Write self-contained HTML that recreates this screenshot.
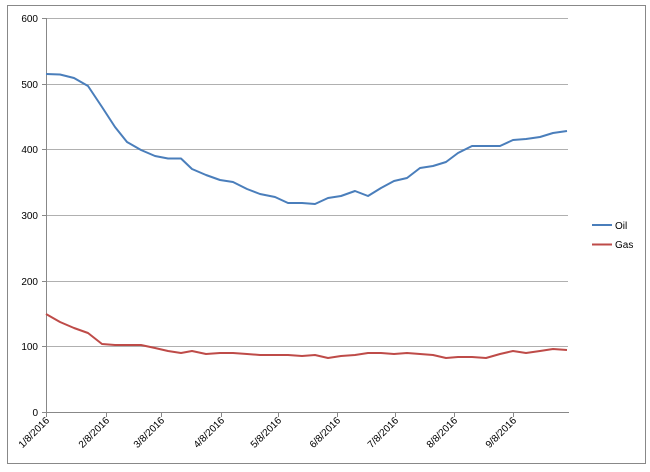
<!DOCTYPE html>
<html><head><style>
body{margin:0;background:#fff;}
svg{display:block;font-family:"Liberation Sans",sans-serif;}
</style></head><body>
<svg width="650" height="472" viewBox="0 0 650 472">
<rect x="0" y="0" width="650" height="472" fill="#fff"/>
<rect x="7.5" y="5.5" width="638" height="458" fill="#fff" stroke="#888" stroke-width="1"/>
<g stroke="#b0b0b0" stroke-width="1">
<line x1="46" x2="568" y1="18.5" y2="18.5"/>
<line x1="46" x2="568" y1="84.5" y2="84.5"/>
<line x1="46" x2="568" y1="149.5" y2="149.5"/>
<line x1="46" x2="568" y1="215.5" y2="215.5"/>
<line x1="46" x2="568" y1="281.5" y2="281.5"/>
<line x1="46" x2="568" y1="346.5" y2="346.5"/>
</g>
<g stroke="#888" stroke-width="1">
<line x1="46.5" x2="46.5" y1="18" y2="412"/>
<line x1="46" x2="569" y1="412.5" y2="412.5"/>
<line x1="46.5" x2="46.5" y1="412" y2="417"/>
<line x1="106.5" x2="106.5" y1="412" y2="417"/>
<line x1="161.5" x2="161.5" y1="412" y2="417"/>
<line x1="221.5" x2="221.5" y1="412" y2="417"/>
<line x1="278.5" x2="278.5" y1="412" y2="417"/>
<line x1="337.5" x2="337.5" y1="412" y2="417"/>
<line x1="395.5" x2="395.5" y1="412" y2="417"/>
<line x1="454.5" x2="454.5" y1="412" y2="417"/>
<line x1="513.5" x2="513.5" y1="412" y2="417"/>
<line x1="42" x2="46" y1="18.5" y2="18.5"/><line x1="42" x2="46" y1="84.5" y2="84.5"/><line x1="42" x2="46" y1="149.5" y2="149.5"/><line x1="42" x2="46" y1="215.5" y2="215.5"/><line x1="42" x2="46" y1="281.5" y2="281.5"/><line x1="42" x2="46" y1="346.5" y2="346.5"/><line x1="42" x2="46" y1="412.5" y2="412.5"/>
</g>
<g font-size="10" fill="#000" text-anchor="end">
<text x="38" y="22">600</text><text x="38" y="88">500</text><text x="38" y="153">400</text><text x="38" y="219">300</text><text x="38" y="285">200</text><text x="38" y="350">100</text><text x="38" y="416">0</text>
</g>
<g font-size="10" fill="#000" text-anchor="end">
<text transform="translate(50,421) rotate(-45)">1/8/2016</text>
<text transform="translate(110,421) rotate(-45)">2/8/2016</text>
<text transform="translate(165,421) rotate(-45)">3/8/2016</text>
<text transform="translate(225,421) rotate(-45)">4/8/2016</text>
<text transform="translate(282,421) rotate(-45)">5/8/2016</text>
<text transform="translate(341,421) rotate(-45)">6/8/2016</text>
<text transform="translate(399,421) rotate(-45)">7/8/2016</text>
<text transform="translate(458,421) rotate(-45)">8/8/2016</text>
<text transform="translate(517,421) rotate(-45)">9/8/2016</text>
</g>
<polyline fill="none" stroke="#4a7ebb" stroke-width="2" stroke-linejoin="round" points="46,74 60,74.5 74,78 88,86 102,107 115,127 127,142 141,150 155,156 168,158.5 181,158.5 192,169 206,175 220,180 233,182 247,189 260,194 275,197 288,203 302,203 315,204 328,198 341,196 355,191 368,196 381,188 394,181 407,178 420,168 433,166 446,162 458,153 472,146 486,146 500,146 513,140 526,139 540,137 553,133 567,131"/>
<polyline fill="none" stroke="#be4b48" stroke-width="2" stroke-linejoin="round" points="46,314 60,322 74,328 88,333 102,344 115,345 130,345 141,345 155,348 168,351 181,353 192,351 206,354 220,353 233,353 247,354 260,355 275,355 288,355 302,356 315,355 328,358 341,356 355,355 368,353 381,353 394,354 407,353 420,354 433,355 446,358 458,357 472,357 486,358 500,354 513,351 526,353 540,351 553,349 567,350"/>
<line x1="592" x2="612" y1="225" y2="225" stroke="#4a7ebb" stroke-width="2"/>
<line x1="592" x2="612" y1="244.5" y2="244.5" stroke="#be4b48" stroke-width="2"/>
<g font-size="10" fill="#000"><text x="615" y="229">Oil</text><text x="615" y="248">Gas</text></g>
</svg>
</body></html>
